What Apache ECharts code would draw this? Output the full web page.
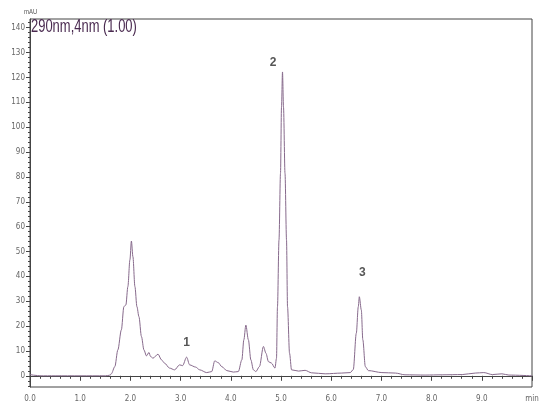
<!DOCTYPE html>
<html>
<head>
<meta charset="utf-8">
<script src="https://cdn.jsdelivr.net/npm/echarts@6/dist/echarts.min.js"></script>
<style>html,body{margin:0;padding:0;background:#fff}#c{width:550px;height:413px}</style>
</head>
<body>
<div id="c"></div>
<script>
// Retention time (min)
var timeMin = [0, 0.1, 0.2, 0.5, 1.0, 1.5, 1.58, 1.62, 1.69, 1.75, 1.82, 1.87, 1.91, 1.95, 1.99, 2.02, 2.05, 2.09, 2.13, 2.17, 2.22, 2.27, 2.32, 2.37, 2.40, 2.45, 2.55, 2.62, 2.68, 2.78, 2.88, 2.98, 3.04, 3.12, 3.18, 3.30, 3.38, 3.52, 3.62, 3.68, 3.75, 3.82, 3.92, 4.05, 4.15, 4.22, 4.26, 4.30, 4.35, 4.40, 4.45, 4.50, 4.57, 4.65, 4.70, 4.75, 4.81, 4.88, 4.91, 4.93, 4.96, 4.99, 5.01, 5.03, 5.05, 5.08, 5.11, 5.13, 5.17, 5.21, 5.35, 5.48, 5.61, 5.88, 6.21, 6.38, 6.44, 6.50, 6.54, 6.56, 6.60, 6.63, 6.68, 6.74, 7.01, 7.28, 7.47, 7.87, 8.21, 8.61, 8.87, 9.04, 9.21, 9.40, 9.54, 10.0];
// Absorbance (mAU)
var absorbance = [0.5, 0.2, 0, 0, 0, 0, 0.2, 0.8, 3.7, 10.4, 18.5, 27.8, 28.5, 35.9, 46.6, 54.2, 47.9, 35.9, 27.8, 23.8, 15.8, 10.4, 8.0, 9.4, 7.8, 7.1, 8.7, 6.4, 5.1, 3.1, 2.4, 4.4, 4.1, 7.5, 4.4, 3.5, 2.4, 1.3, 1.7, 6.0, 5.3, 3.7, 2.1, 1.5, 1.7, 6.4, 14.5, 20.4, 14.5, 6.4, 2.4, 1.7, 3.7, 11.8, 9.1, 5.7, 5.1, 3.1, 7.0, 27.8, 54.6, 81.4, 108, 122.2, 108, 81.4, 54.6, 27.8, 9.1, 2.4, 1.9, 2.2, 1.2, 0.8, 1.1, 1.3, 2.5, 17.1, 27.8, 31.8, 26.5, 14.5, 3.7, 2.1, 1.3, 1.1, 0.4, 0.3, 0.4, 0.5, 1.1, 1.3, 0.5, 0.8, 0.3, 0];
// Y tick labels
var yTicks = [0, 10, 20, 30, 40, 50, 60, 70, 80, 90, 100, 110, 120, 130, 140];
var yMinorTicks = [-4, -2, 2, 4, 6, 8, 12, 14, 16, 18, 22, 24, 26, 28, 32, 34, 36, 38, 42, 44, 46, 48, 52, 54, 56, 58, 62, 64, 66, 68, 72, 74, 76, 78, 82, 84, 86, 88, 92, 94, 96, 98, 102, 104, 106, 108, 112, 114, 116, 118, 122, 124, 126, 128, 132, 134, 136, 138, 142];
// Peak annotations (text, time, mAU anchor)
var peakNames = ['1', '2', '3'];
var peakTimes = [3.12, 4.84, 6.62];
var peakLevels = [13.3, 126, 41.4];
var titleText = '290nm,4nm (1.00)';
var yUnit = 'mAU';
var xUnit = 'min';

var lineData = timeMin.map(function (t, i) { return [t, absorbance[i]]; });
var labelData = peakNames.map(function (n, i) { return { name: n, value: [peakTimes[i], peakLevels[i]] }; });

var tickFont = "'Liberation Sans Narrow','DejaVu Sans Condensed',sans-serif";
var chart = echarts.init(document.getElementById('c'), null, { renderer: 'canvas' });
chart.setOption({
  animation: false,
  backgroundColor: '#fff',
  graphic: [{
    type: 'text', x: 31, y: 18, scaleX: 0.72, z: 10,
    style: { text: titleText, font: "18px 'Liberation Sans', Arial, sans-serif", fill: '#4a2a50', textVerticalAlign: 'top' }
  }, {
    type: 'text', x: 24, y: 9, scaleX: 0.85, z: 10,
    style: { text: yUnit, font: "7px 'Liberation Sans', Arial, sans-serif", fill: '#555', textVerticalAlign: 'top' }
  }],
  grid: { left: 30, right: 18, top: 19, bottom: 26, show: true, borderColor: '#444', borderWidth: 1, backgroundColor: 'transparent' },
  xAxis: {
    type: 'value', min: 0, max: 10, interval: 1,
    axisLine: { show: true, lineStyle: { color: '#444', width: 1 } },
    axisTick: { show: true, inside: false, length: 5, lineStyle: { color: '#444' } },
    minorTick: { show: true, splitNumber: 5, length: 3, lineStyle: { color: '#444' } },
    splitLine: { show: false },
    axisLabel: {
      margin: 8, fontSize: 8, color: '#666', fontFamily: tickFont,
      formatter: function (v) { return v === 10 ? xUnit : v.toFixed(1); }
    }
  },
  yAxis: [{
    type: 'value', min: -4.5, max: 143.5,
    axisLine: { show: true, lineStyle: { color: '#444', width: 1 } },
    axisTick: { show: true, inside: false, length: 4, customValues: yTicks, lineStyle: { color: '#444' } },
    splitLine: { show: false },
    axisLabel: { margin: 5, fontSize: 8, color: '#666', fontFamily: tickFont, customValues: yTicks }
  }, {
    type: 'value', min: -4.5, max: 143.5, position: 'left',
    axisLine: { show: false },
    axisTick: { show: true, inside: false, length: 2, customValues: yMinorTicks, lineStyle: { color: '#444' } },
    splitLine: { show: false },
    axisLabel: { show: false, customValues: yMinorTicks }
  }],
  series: [{
    type: 'line', data: lineData, showSymbol: false, symbol: 'none',
    smooth: 0.3, smoothMonotone: 'x',
    lineStyle: { color: '#876a8c', width: 1 }, z: 3
  }, {
    type: 'scatter', data: labelData, symbolSize: 0, silent: true,
    label: {
      show: true, position: 'inside', formatter: '{b}', fontWeight: 'bold',
      fontSize: 12, color: '#2a2a2a', fontFamily: "'Liberation Sans','DejaVu Sans',sans-serif"
    }
  }]
});
</script>
</body>
</html>
